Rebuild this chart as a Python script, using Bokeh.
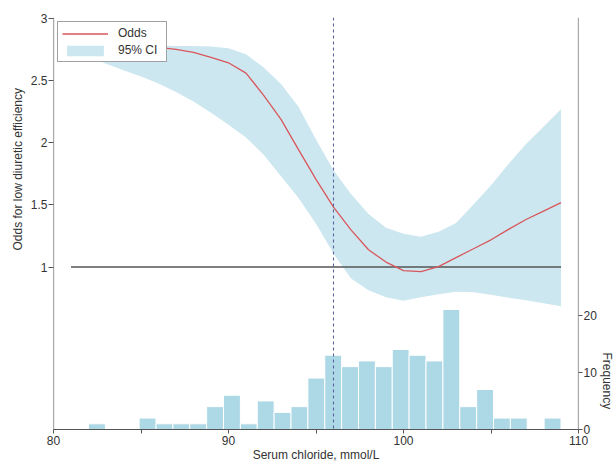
from bokeh.plotting import figure
from bokeh.models import (Range1d, LinearAxis, FixedTicker, Span, Legend,
                          LegendItem, Title)
from bokeh.embed import file_html
from bokeh.resources import INLINE
import numpy as np

# ---- data ----
chloride = [81, 82, 83, 84, 85, 86, 87, 88, 89, 90, 91, 92, 93, 94, 95,
            96, 97, 98, 99, 100, 101, 102, 103, 104, 105, 106, 107, 108, 109]
odds = [2.781, 2.777, 2.773, 2.773, 2.769, 2.765, 2.749, 2.725, 2.685, 2.641,
        2.558, 2.382, 2.187, 1.944, 1.705, 1.482, 1.299, 1.139, 1.040, 0.972,
        0.964, 1.004, 1.076, 1.147, 1.219, 1.303, 1.382, 1.450, 1.518]
ci_upper = [2.781, 2.781, 2.781, 2.781, 2.781, 2.781, 2.777, 2.777, 2.773, 2.757,
            2.709, 2.606, 2.470, 2.287, 2.024, 1.777, 1.586, 1.426, 1.315, 1.267,
            1.243, 1.283, 1.355, 1.502, 1.657, 1.829, 1.988, 2.127, 2.267]
ci_lower = [2.725, 2.693, 2.633, 2.582, 2.530, 2.474, 2.406, 2.331, 2.239, 2.143,
            2.040, 1.904, 1.729, 1.554, 1.347, 1.108, 0.908, 0.813, 0.757, 0.729,
            0.757, 0.781, 0.801, 0.797, 0.777, 0.753, 0.733, 0.709, 0.685]

hist_counts = [1, 0, 0, 2, 1, 1, 1, 4, 6, 1, 5, 3, 4, 9, 13, 11, 12, 11, 14,
               13, 12, 21, 4, 7, 2, 2, 0, 2]
hist_min, hist_max = 82, 109

reference_odds = 1
cutoff = 96

x_ticks = [80, 85, 90, 95, 100, 105, 110]
x_tick_labels = ["80", "", "90", "", "100", "", "110"]
y_ticks = [1, 1.5, 2, 2.5, 3]
y_tick_labels = ["1", "1.5", "2", "2.5", "3"]
freq_ticks = [0, 10, 20]
freq_tick_labels = ["0", "10", "20"]

x_label = "Serum chloride, mmol/L"
y_label = "Odds for low diuretic efficiency"
freq_label = "Frequency"

x_lo, x_hi = 80, 110
y_lo, y_hi = -0.305, 3.005
freq_lo, freq_hi = 0, 72.1

FONT = "Liberation Sans"
AXIS_COLOR = "#555555"
TEXT_COLOR = "#333333"

W, H = 615, 464
FRAME_L, FRAME_R, FRAME_T, FRAME_B = 53, 578, 17, 432

p = figure(width=W, height=H, x_range=Range1d(x_lo, x_hi),
           y_range=Range1d(y_lo, y_hi), output_backend="svg",
           toolbar_location=None, min_border_left=FRAME_L,
           min_border_right=W - FRAME_R, min_border_top=FRAME_T,
           min_border_bottom=H - FRAME_B)
p.extra_y_ranges = {"freq": Range1d(freq_lo, freq_hi)}
p.outline_line_color = None
p.grid.visible = False
p.background_fill_color = "white"

# histogram
edges = np.linspace(hist_min, hist_max, len(hist_counts) + 1)
p.quad(left=edges[:-1], right=edges[1:], bottom=0, top=hist_counts,
       y_range_name="freq", fill_color="#add8e6", line_color="white",
       line_width=1)

# CI band
band = p.varea(x=chloride, y1=ci_lower, y2=ci_upper, fill_color="#add8e6",
               fill_alpha=0.62)

# reference line
p.line(x=[chloride[0], chloride[-1]], y=[reference_odds, reference_odds],
       line_color="#555555", line_width=1.5)

# odds curve
odds_line = p.line(x=chloride, y=odds, line_color="#d9575b", line_width=1.3)

# cutoff
p.add_layout(Span(location=cutoff, dimension="height", line_color="#5a62a0",
                  line_dash="3 3", line_width=1.1))

# frame side lines (full height)
p.add_layout(Span(location=x_lo, dimension="height", line_color=AXIS_COLOR,
                  line_width=1.2))
p.add_layout(Span(location=x_hi, dimension="height", line_color=AXIS_COLOR,
                  line_width=1.2))


def style_axis(ax):
    ax.major_tick_in = 0
    ax.major_tick_out = 4
    ax.minor_tick_line_color = None
    ax.major_tick_line_color = AXIS_COLOR
    ax.axis_line_color = AXIS_COLOR
    ax.axis_line_width = 1.2
    ax.major_label_text_font = FONT
    ax.major_label_text_font_size = "12px"
    ax.major_label_text_color = TEXT_COLOR
    ax.major_label_text_line_height = 1.0
    ax.major_label_standoff = 2


xa = p.xaxis[0]
style_axis(xa)
xa.ticker = FixedTicker(ticks=x_ticks)
xa.major_label_overrides = dict(zip(x_ticks, x_tick_labels))
xa.major_label_standoff = 2
xa.axis_label = x_label
xa.axis_label_text_font = FONT
xa.axis_label_text_font_size = "12px"
xa.axis_label_text_font_style = "normal"
xa.axis_label_text_color = TEXT_COLOR
xa.axis_label_text_line_height = 1.0
xa.axis_label_standoff = 0

ya = p.yaxis[0]
style_axis(ya)
ya.ticker = FixedTicker(ticks=y_ticks)
ya.major_label_overrides = dict(zip(y_ticks, y_tick_labels))
ya.major_tick_out = 5
ya.major_label_standoff = 1
ya.axis_line_color = None

ra = LinearAxis(y_range_name="freq")
style_axis(ra)
ra.ticker = FixedTicker(ticks=freq_ticks)
ra.major_label_overrides = dict(zip(freq_ticks, freq_tick_labels))
ra.major_label_standoff = 1
ra.axis_line_color = None
p.add_layout(ra, "right")

# side titles, anchored at one end of the side and shifted with offset
title_style = dict(text_font=FONT, text_font_size="12px",
                   text_font_style="normal", text_color=TEXT_COLOR,
                   align="left")
p.add_layout(Title(text=y_label, offset=179, standoff=5, **title_style),
             "left")
p.add_layout(Title(text=freq_label, offset=335, standoff=0, **title_style),
             "right")

legend = Legend(items=[LegendItem(label="Odds", renderers=[odds_line]),
                       LegendItem(label="95% CI", renderers=[band])],
                location="top_left")
legend.margin = 4
legend.padding = 4
legend.spacing = 3
legend.glyph_width = 46
legend.glyph_height = 13
legend.label_height = 13
legend.label_width = 44
legend.label_standoff = 10
legend.label_text_font = FONT
legend.label_text_font_size = "12px"
legend.label_text_color = TEXT_COLOR
legend.border_line_color = "#444444"
legend.border_line_width = 1.5
legend.background_fill_alpha = 1
p.add_layout(legend)

open("out.html", "w").write(file_html(p, INLINE))
